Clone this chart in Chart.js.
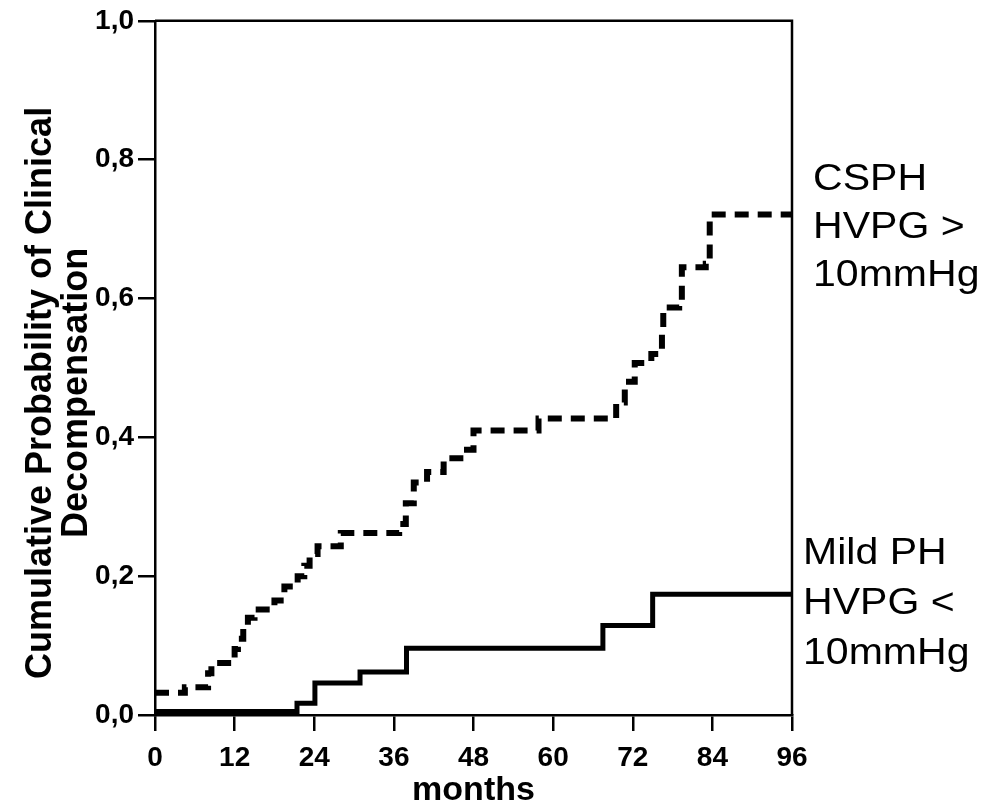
<!DOCTYPE html>
<html>
<head>
<meta charset="utf-8">
<script src="https://cdn.jsdelivr.net/npm/chart.js@4"></script>
<style>
  html, body { margin: 0; padding: 0; background: #fff; }
  #wrap { position: relative; width: 996px; height: 811px; }
  .lbl { position: absolute; font-family: 'Liberation Sans', Arial, sans-serif; font-size: 36px; color: #000; transform: scaleX(1.14); transform-origin: left top; white-space: nowrap; }
</style>
</head>
<body>
<div id="wrap">
  <canvas id="km"></canvas>
  <div class="lbl" style="left:813px; top:154px; line-height:48px;">CSPH<br>HVPG &gt;<br>10mmHg</div>
  <div class="lbl" style="left:803px; top:527px; line-height:50px;">Mild PH<br>HVPG &lt;<br>10mmHg</div>
</div>
<script>
// step points: [month, cumulative probability after the event]
const csphMonths = [0, 4.5, 8, 8.5, 12, 12.5, 13.3, 14, 15, 18, 19.5, 21.5, 22.5, 23.3, 24.5, 28, 36.8, 37.8, 39, 41, 43.5, 46.5, 48, 57.8, 69.5, 70.8, 72.3, 74.8, 76.4, 76.6, 79, 79.4, 83, 83.6, 96];
const csphProb   = [0.032, 0.040, 0.060, 0.075, 0.095, 0.110, 0.125, 0.140, 0.152, 0.165, 0.185, 0.200, 0.215, 0.232, 0.243, 0.262, 0.275, 0.305, 0.335, 0.350, 0.370, 0.382, 0.410, 0.427, 0.450, 0.480, 0.507, 0.520, 0.550, 0.587, 0.597, 0.645, 0.650, 0.721, 0.721];
const mildMonths = [0, 21.4, 24.1, 30.9, 37.9, 67.5, 75.0, 96];
const mildProb   = [0.005, 0.017, 0.046, 0.062, 0.096, 0.129, 0.174, 0.174];
const xTicks = [0, 12, 24, 36, 48, 60, 72, 84, 96];
// trailing spaces push the rotated title a little down, as in the original
const yTitle = ['Cumulative Probability of Clinical     ', 'Decompensation     '];

const sans = "'Liberation Sans', Arial, sans-serif";

const framePlugin = {
  id: 'frame',
  afterDraw(chart) {
    const { ctx, chartArea: a } = chart;
    ctx.save();
    ctx.strokeStyle = '#000';
    ctx.lineWidth = 2.5;
    ctx.beginPath();
    ctx.moveTo(a.left, a.top);
    ctx.lineTo(a.right, a.top);
    ctx.lineTo(a.right, a.bottom);
    ctx.stroke();
    ctx.restore();
  }
};

new Chart(document.getElementById('km'), {
  type: 'line',
  data: {
    datasets: [
      {
        label: 'CSPH HVPG > 10mmHg',
        data: csphMonths.map((m, i) => ({ x: m, y: csphProb[i] })),
        borderColor: '#000', borderWidth: 6, borderDash: [14, 9],
        stepped: true, pointRadius: 0, fill: false
      },
      {
        label: 'Mild PH HVPG < 10mmHg',
        data: mildMonths.map((m, i) => ({ x: m, y: mildProb[i] })),
        borderColor: '#000', borderWidth: 5,
        stepped: true, pointRadius: 0, fill: false
      }
    ]
  },
  options: {
    responsive: true, maintainAspectRatio: false, animation: false,
    layout: { padding: { top: 19, right: 204, left: 0, bottom: 0 } },
    plugins: { legend: { display: false }, tooltip: { enabled: false } },
    scales: {
      x: {
        type: 'linear', min: 0, max: 96,
        afterBuildTicks: s => { s.ticks = xTicks.map(v => ({ value: v })); },
        afterFit: s => { s.height = 96; },
        ticks: { color: '#000', padding: 10, maxRotation: 0, font: { family: sans, size: 28, weight: 'bold' } },
        grid: { drawOnChartArea: false, drawTicks: true, tickLength: 16, color: '#000', lineWidth: 2.5 },
        border: { display: true, color: '#000', width: 2.5 },
        title: { display: true, text: 'months', color: '#000', padding: 0, font: { family: sans, size: 34, weight: 'bold' } }
      },
      y: {
        min: 0, max: 1,
        ticks: { stepSize: 0.2, color: '#000', padding: 4, callback: v => v.toFixed(1).replace('.', ','), font: { family: sans, size: 28, weight: 'bold' } },
        afterFit: s => { s.width = 155; },
        grid: { drawOnChartArea: false, drawTicks: true, tickLength: 17, color: '#000', lineWidth: 2.5 },
        border: { display: true, color: '#000', width: 2.5 },
        title: { display: true, text: yTitle, color: '#000', padding: { top: 23, bottom: 0 }, font: { family: sans, size: 36, weight: 'bold', lineHeight: 1.0 } }
      }
    }
  },
  plugins: [framePlugin]
});
</script>
</body>
</html>
